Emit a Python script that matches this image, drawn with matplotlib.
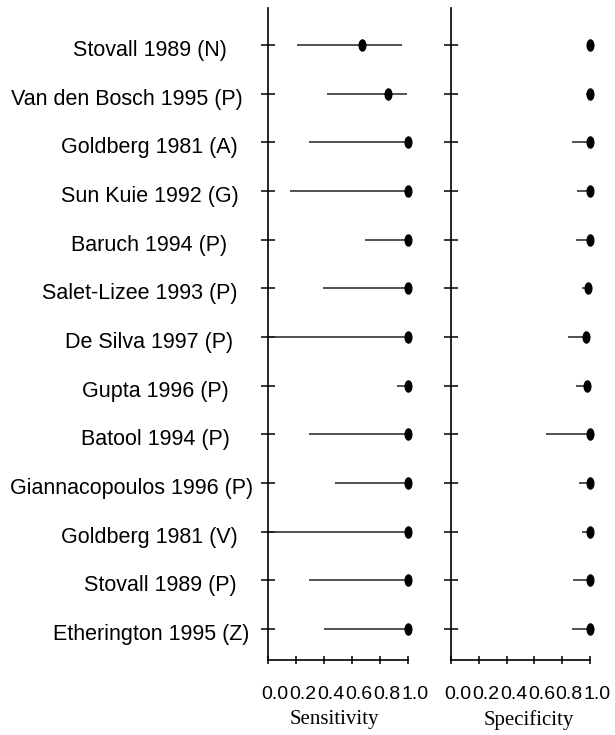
import numpy as np
import matplotlib.pyplot as plt
from matplotlib.path import Path
from matplotlib.transforms import ScaledTranslation

studies = ['Stovall 1989 (N)', 'Van den Bosch 1995 (P)', 'Goldberg 1981 (A)',
           'Sun Kuie 1992 (G)', 'Baruch 1994 (P)', 'Salet-Lizee 1993 (P)',
           'De Silva 1997 (P)', 'Gupta 1996 (P)', 'Batool 1994 (P)',
           'Giannacopoulos 1996 (P)', 'Goldberg 1981 (V)', 'Stovall 1989 (P)',
           'Etherington 1995 (Z)']

sens = [0.67, 0.86, 1.0, 1.0, 1.0, 1.0, 1.0, 1.0, 1.0, 1.0, 1.0, 1.0, 1.0]
sens_lo = [0.21, 0.42, 0.29, 0.16, 0.69, 0.39, 0.0, 0.92, 0.29, 0.48, 0.0, 0.29, 0.40]
sens_hi = [0.96, 0.99, 1.0, 1.0, 1.0, 1.0, 1.0, 1.0, 1.0, 1.0, 1.0, 1.0, 1.0]

spec = [1.0, 1.0, 1.0, 1.0, 1.0, 0.985, 0.97, 0.98, 1.0, 1.0, 1.0, 1.0, 1.0]
spec_lo = [0.98, 0.97, 0.87, 0.91, 0.90, 0.94, 0.84, 0.90, 0.68, 0.92, 0.94, 0.88, 0.87]
spec_hi = [1.0, 1.0, 1.0, 1.0, 1.0, 0.99, 0.975, 0.985, 1.0, 1.0, 1.0, 1.0, 1.0]

xticks = [0.0, 0.2, 0.4, 0.6, 0.8, 1.0]
xticklabels = ['0.0', '0.2', '0.4', '0.6', '0.8', '1.0']

# the original labels are a bit ragged; horizontal nudge in pixels
label_nudge = [-13, 3, -2, -1, -13, -3, -7, -11, -10, 13, -2, -3, 9]

# tall ellipse marker
circ = Path.unit_circle()
dot = Path(circ.vertices * [0.6, 1.0], circ.codes)

fig = plt.figure(figsize=(6.15, 7.35), dpi=100)
ax1 = fig.add_axes([268 / 615, 1 - 660 / 735, 140 / 615, 652 / 735])
ax2 = fig.add_axes([451 / 615, 1 - 660 / 735, 139 / 615, 652 / 735])

n = len(studies)
ypos = np.arange(n, 0, -1)
px = 72 / 100  # points per pixel

for ax, pt, lo, hi, name, lx in [(ax1, sens, sens_lo, sens_hi, 'Sensitivity', 0.471),
                                 (ax2, spec, spec_lo, spec_hi, 'Specificity', 0.561)]:
    ax.hlines(ypos, lo, hi, color='#222222', lw=1.1, zorder=2, clip_on=False)
    ax.plot(pt, ypos, ls='none', marker=dot, ms=8, color='black', zorder=3,
            clip_on=False)
    ax.set_xlim(0, 1.0)
    ax.set_ylim(0.36, 13.76)
    ax.spines['top'].set_visible(False)
    ax.spines['right'].set_visible(False)
    ax.spines['left'].set_linewidth(1.2)
    ax.spines['bottom'].set_linewidth(1.2)
    ax.set_xticks(xticks)
    ax.set_xticklabels(xticklabels, fontfamily='Liberation Sans', fontsize=14)
    ax.set_yticks(ypos)
    ax.tick_params(axis='y', direction='inout', length=14 * px, width=1.1)
    ax.tick_params(axis='x', direction='inout', length=8 * px, width=1.1, pad=15 * px)
    for lab in ax.get_xticklabels():
        lab.set_transform(lab.get_transform() + ScaledTranslation(7 / 100, -7 / 100, fig.dpi_scale_trans))
    ax.set_xlabel(name, fontfamily='Liberation Serif', fontsize=15, labelpad=1)
    ax.xaxis.set_label_coords(lx, -0.077)

ax1.set_yticklabels(studies, fontfamily='Liberation Sans', fontsize=15.5)
ax1.tick_params(axis='y', pad=21 * px)
for lab, dx in zip(ax1.get_yticklabels(), label_nudge):
    lab.set_transform(lab.get_transform() + ScaledTranslation(dx / 100, -3 / 100, fig.dpi_scale_trans))
ax2.set_yticklabels([])

fig.savefig('out.png', dpi=100)
